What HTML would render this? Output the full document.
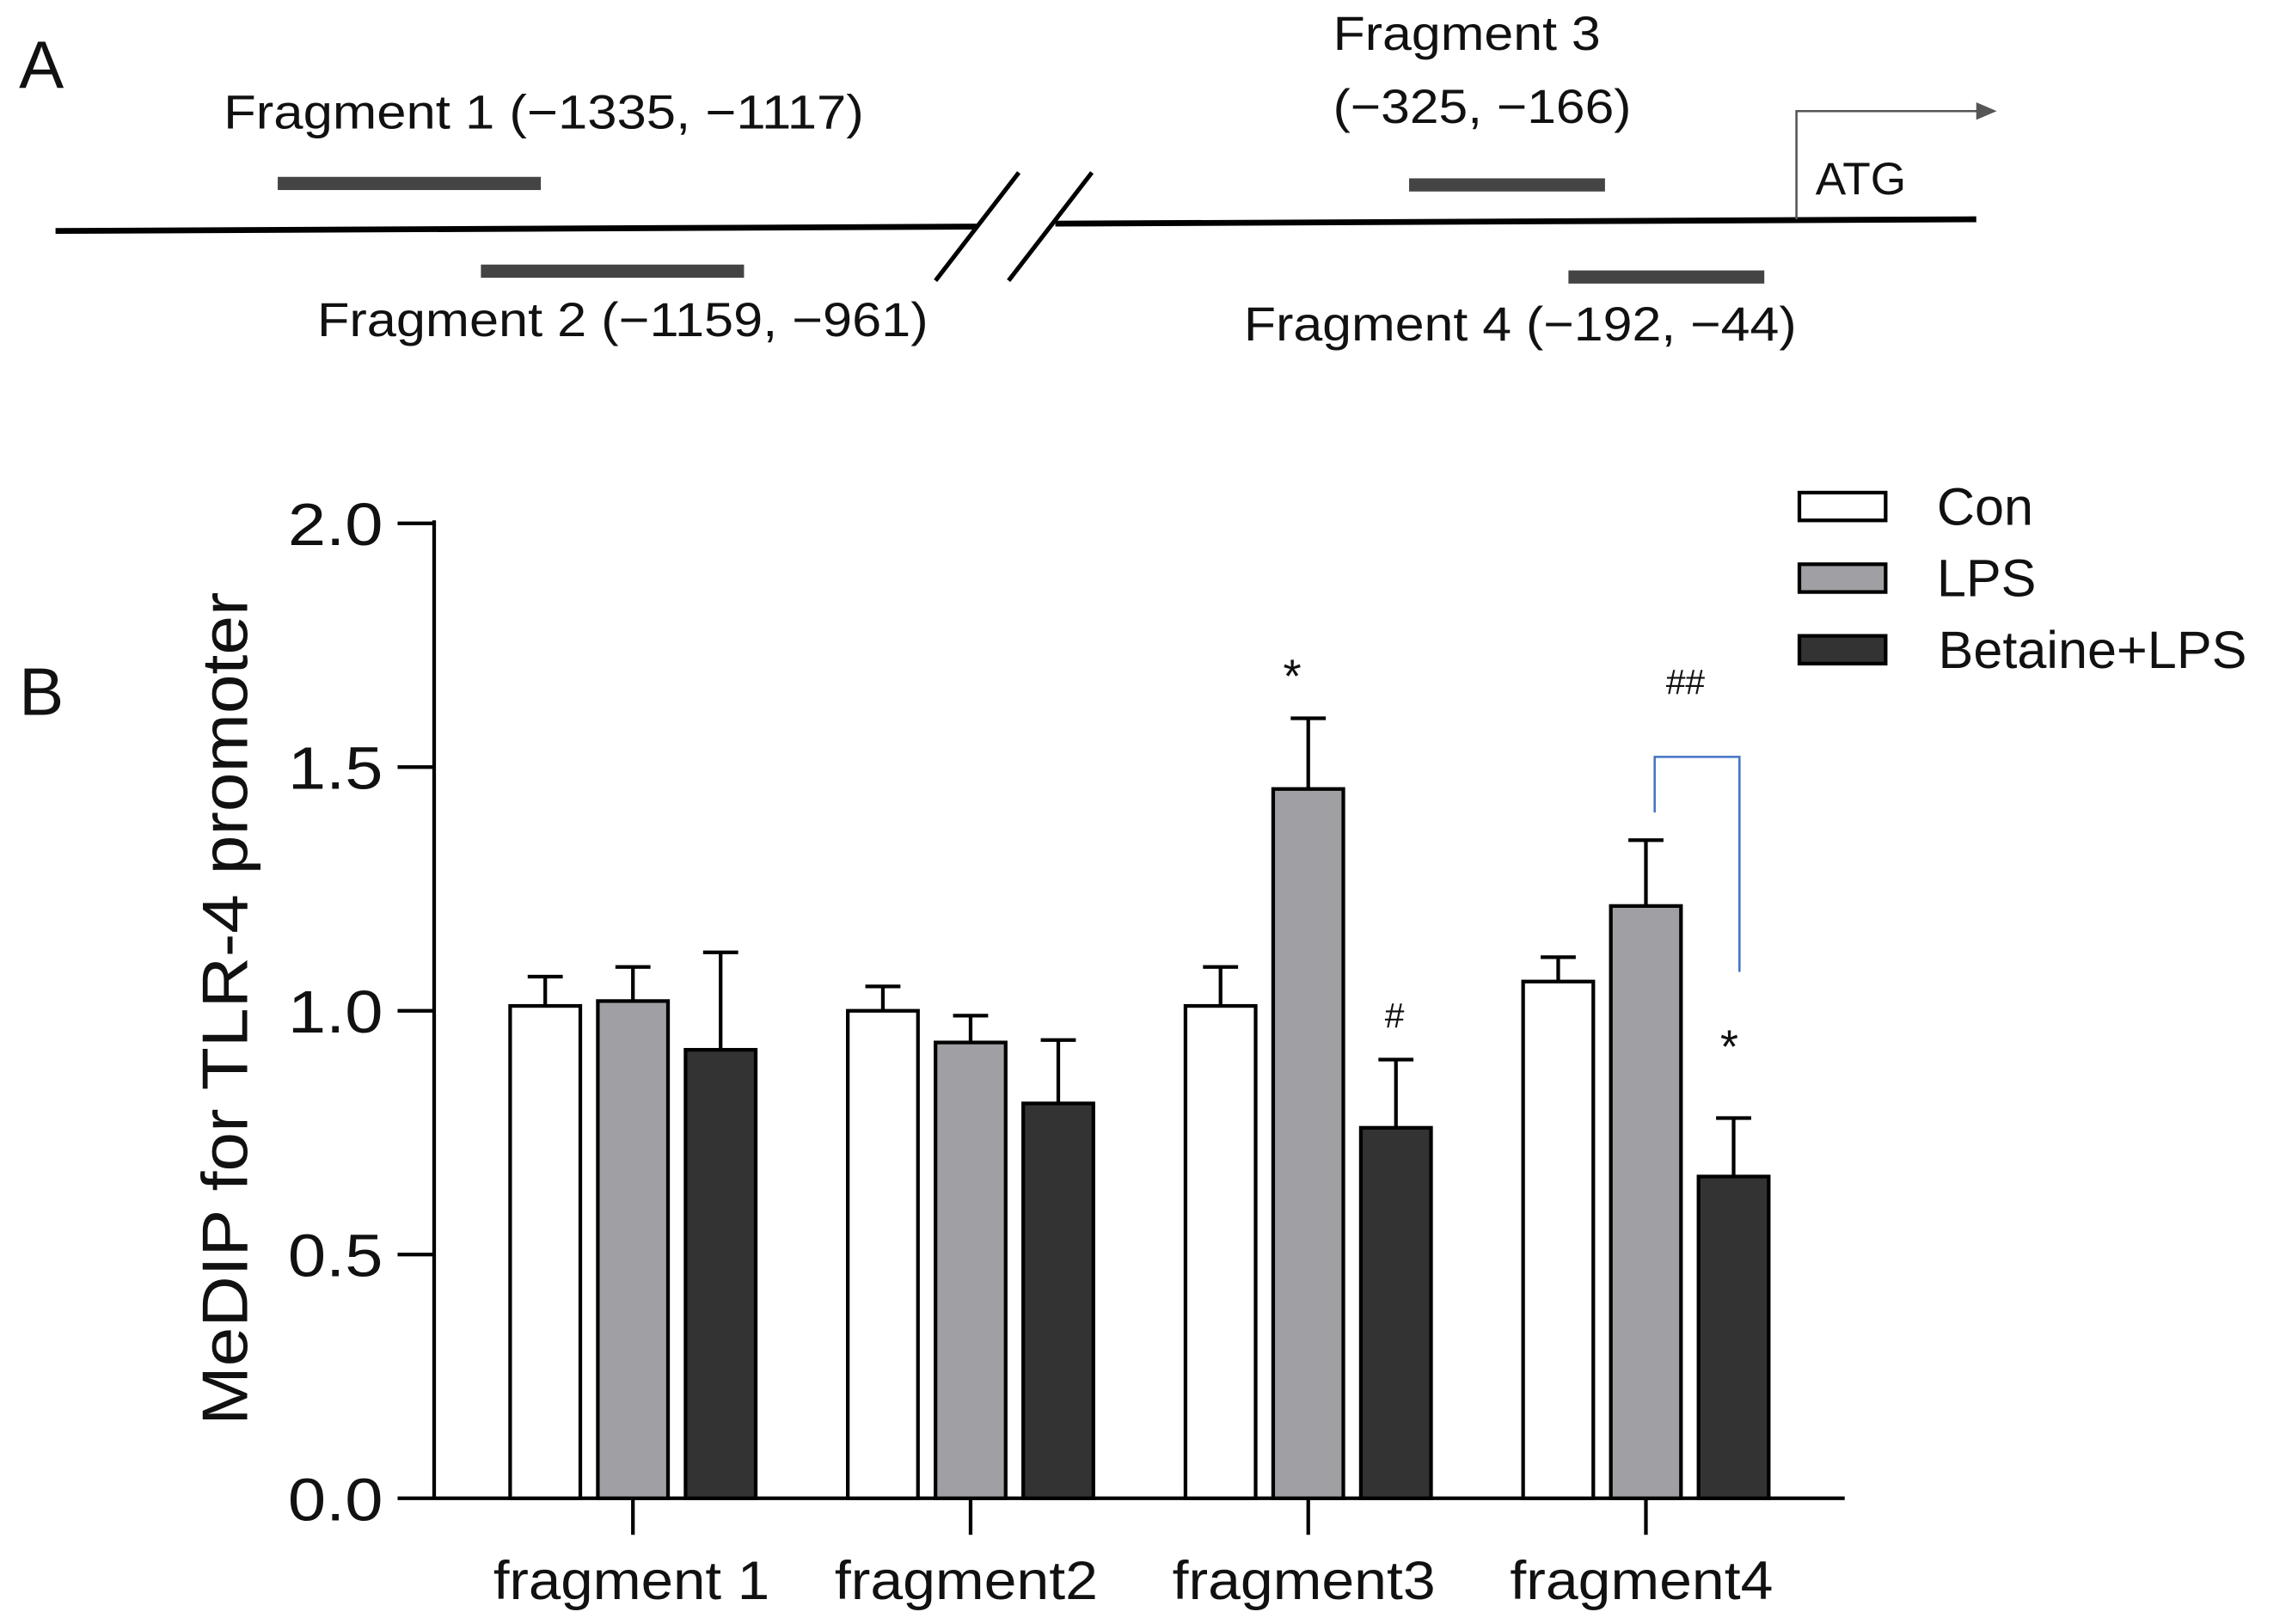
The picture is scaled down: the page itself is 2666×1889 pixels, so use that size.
<!DOCTYPE html>
<html><head><meta charset="utf-8"><style>
html,body{margin:0;padding:0;background:#fff}
svg{display:block}
text{font-family:"Liberation Sans",Arial,sans-serif;fill:#111}
</style></head><body>
<svg id="fig" width="2666" height="1889" viewBox="0 0 1568 1111" xmlns="http://www.w3.org/2000/svg">
<g>
<text x="13" y="60" font-size="46">A</text>
<line x1="38" y1="158" x2="668" y2="155" stroke="#000" stroke-width="4"/>
<line x1="722" y1="153" x2="1352" y2="150" stroke="#000" stroke-width="4"/>
<line x1="640" y1="192" x2="697" y2="118" stroke="#000" stroke-width="3"/>
<line x1="690" y1="192" x2="747" y2="118" stroke="#000" stroke-width="3"/>
<rect x="190" y="121" width="180" height="9" fill="#444"/>
<rect x="329" y="181" width="180" height="9" fill="#444"/>
<rect x="964" y="122" width="134" height="9" fill="#444"/>
<rect x="1073" y="185" width="134" height="9" fill="#444"/>
<text x="153" y="88" font-size="33" textLength="438" lengthAdjust="spacingAndGlyphs">Fragment 1 (−1335, −1117)</text>
<text x="217" y="230" font-size="33" textLength="418" lengthAdjust="spacingAndGlyphs">Fragment 2 (−1159, −961)</text>
<text x="912" y="34" font-size="33" textLength="183" lengthAdjust="spacingAndGlyphs">Fragment 3</text>
<text x="912" y="84" font-size="33" textLength="204" lengthAdjust="spacingAndGlyphs">(−325, −166)</text>
<text x="851" y="233" font-size="33" textLength="378" lengthAdjust="spacingAndGlyphs">Fragment 4 (−192, −44)</text>
<polyline points="1229,150 1229,76 1354,76" fill="none" stroke="#555" stroke-width="1.5"/>
<polygon points="1366,76 1352,70 1352,82" fill="#555"/>
<text x="1242" y="133" font-size="31" textLength="62" lengthAdjust="spacingAndGlyphs">ATG</text>
</g>
<text x="13" y="489" font-size="46">B</text>
<g id="chart"></g>
</svg>
<script>
const groups = ["fragment 1","fragment2","fragment3","fragment4"];
const seriesNames = ["Con","LPS","Betaine+LPS"];
const conVals = [1.01, 1.00, 1.01, 1.06];
const lpsVals = [1.02, 0.935, 1.455, 1.215];
const betVals = [0.92, 0.81, 0.76, 0.66];
const conErr = [0.06, 0.05, 0.08, 0.05];
const lpsErr = [0.07, 0.055, 0.145, 0.135];
const betErr = [0.20, 0.13, 0.14, 0.12];
const yTicks = [0.0, 0.5, 1.0, 1.5, 2.0];
const yTickLabels = ["0.0","0.5","1.0","1.5","2.0"];
const annotations = [{g:2,s:1,t:"*"},{g:2,s:2,t:"#"},{g:3,s:2,t:"*"}];

const NS = "http://www.w3.org/2000/svg";
const chart = document.getElementById("chart");
const x0 = 297, x1 = 1262, yBase = 1025, yTop = 358;
const y = v => yBase - v / 2.0 * (yBase - yTop);
const groupX = i => 433 + i * 231;
const barX = (g, s) => groupX(g) + (s - 1) * 60;
const barW = 48;
const fills = ["#ffffff", "#a0a0a4", "#333333"];
const vals = [conVals, lpsVals, betVals];
const errs = [conErr, lpsErr, betErr];
const xLabelLens = [189, 180, 180, 180];
function el(tag, attrs, parent) {
  const e = document.createElementNS(NS, tag);
  for (const k in attrs) e.setAttribute(k, attrs[k]);
  (parent || chart).appendChild(e);
  return e;
}
let a = el("line", {x1: x0, y1: yTop - 2, x2: x0, y2: yBase, stroke: "#000", "stroke-width": 2.5});


a = el("line", {x1: x0, y1: yBase, x2: x1, y2: yBase, stroke: "#000", "stroke-width": 2.5});


yTicks.forEach((v, i) => {
  const t = el("line", {x1: 272, y1: y(v), x2: x0, y2: y(v), stroke: "#000", "stroke-width": 2.5});
  
  
  const l = el("text", {x: 262, y: y(v) + 15, "font-size": 41, "text-anchor": "end", textLength: 65, lengthAdjust: "spacingAndGlyphs"});
  l.textContent = yTickLabels[i];
  
  
});
groups.forEach((g, i) => {
  const t = el("line", {x1: groupX(i), y1: yBase, x2: groupX(i), y2: yBase + 25, stroke: "#000", "stroke-width": 2.5});
  
  
  const l = el("text", {x: groupX(i) - (i === 0 ? 1 : 3), y: 1094, "font-size": 37, "text-anchor": "middle", textLength: xLabelLens[i], lengthAdjust: "spacingAndGlyphs"});
  l.textContent = g;
  
  
});
const yt = el("text", {x: 0, y: 0, "font-size": 44, "text-anchor": "middle", textLength: 570, lengthAdjust: "spacingAndGlyphs", transform: "translate(169,690) rotate(-90)"});
yt.textContent = "MeDIP for TLR-4 promoter";


groups.forEach((g, gi) => {
  for (let s = 0; s < 3; s++) {
    const v = vals[s][gi], e = errs[s][gi];
    const cx = barX(gi, s);
    const ex = el("line", {x1: cx, y1: y(v - e), x2: cx, y2: y(v + e), stroke: "#000", "stroke-width": 2.5});
    
    
    [v + e, v - e].forEach(ev => {
      const c = el("line", {x1: cx - 12, y1: y(ev), x2: cx + 12, y2: y(ev), stroke: "#000", "stroke-width": 2.5});
      
      
    });
    const r = el("rect", {x: cx - barW / 2, y: y(v), width: barW, height: yBase - y(v), fill: fills[s], stroke: "#000", "stroke-width": 2.5});
    
    
  }
});
annotations.forEach(an => {
  const v = vals[an.s][an.g] + errs[an.s][an.g];
  const isStar = an.t === "*";
  const t = el("text", {x: barX(an.g, an.s) + (isStar ? (an.g === 2 ? -11 : -3) : -1), y: y(v) - (isStar ? (an.g === 2 ? 18 : 38) : 22), "font-size": isStar ? 32 : 24, "text-anchor": "middle"});
  t.textContent = an.t;
  
  
});
const bx1 = barX(3, 1) + 6, bx2 = barX(3, 2) + 4;
const bTop = y(lpsVals[3] + lpsErr[3]) - 57;
const br = el("polyline", {points: `${bx1},${bTop + 38} ${bx1},${bTop} ${bx2},${bTop} ${bx2},${y(betVals[3] + betErr[3]) - 100}`, fill: "none", stroke: "#4472c4", "stroke-width": 1.5});


const hh = el("text", {x: (bx1 + bx2) / 2 - 8, y: bTop - 43, "font-size": 24, "text-anchor": "middle"});
hh.textContent = "##";


seriesNames.forEach((n, i) => {
  const ly = 337 + i * 49;
  const r = el("rect", {x: 1231, y: ly, width: 59, height: 19, fill: fills[i], stroke: "#000", "stroke-width": 2.5});
  
  
  const t = el("text", {x: i === 2 ? 1326 : 1325, y: ly + 22, "font-size": 36});
  t.textContent = n;
  
  
});
</script>
</body></html>
